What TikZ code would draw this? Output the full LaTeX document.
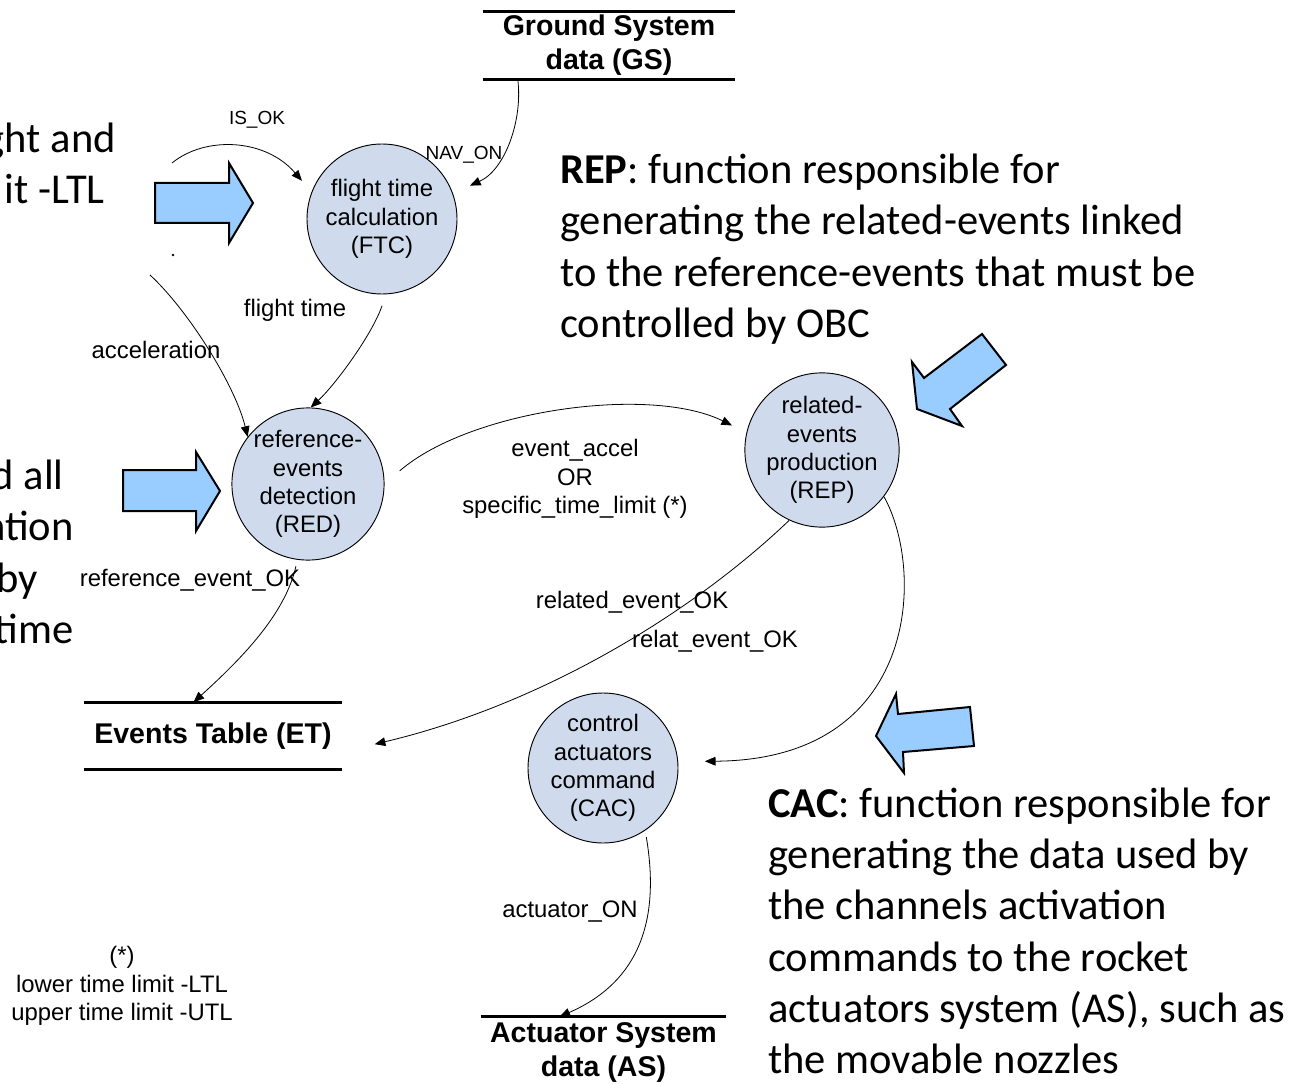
\documentclass[tikz,border=0pt]{standalone}
\usepackage{fontspec}
\setmainfont{Liberation Sans}
\newfontfamily\carlito{Carlito}
\usetikzlibrary{arrows.meta,calc}
\definecolor{procfill}{RGB}{207,219,237}
\definecolor{arrowfill}{RGB}{153,204,255}

\begin{document}
\begin{tikzpicture}[x=0.75pt,y=-0.75pt,
  proc/.style={circle,draw=black,line width=0.7pt,fill=procfill,minimum size=112.5pt,
    inner sep=0pt,align=center,font=\fontsize{17.9}{21.2}\selectfont},
  store/.style={inner sep=0pt,align=center,font=\bfseries\fontsize{21.4}{25.5}\selectfont},
  storeline/.style={line width=2.2pt},
  flow/.style={line width=0.6pt,-{Triangle[length=8pt,width=6.5pt]}},
  bigarrow/.style={draw=black,line width=1.5pt,fill=arrowfill,line join=miter},
  lbl/.style={inner sep=0pt,font=\fontsize{17.9}{21.2}\selectfont},
  small/.style={inner sep=0pt,font=\fontsize{14.25}{17}\selectfont},
  note/.style={inner sep=0pt,align=left,font=\carlito\fontsize{31.9}{38.5}\selectfont},
]
\useasboundingbox (0,0) rectangle (1307,1084);
\clip (0,0) rectangle (1307,1084);

% processes
\node[proc] (ftc) at (382,219) {flight time\\calculation\\(FTC)};
\node[proc] (red) at (308,484) {reference-\\events\\detection\\(RED)};
\node[proc] (rep) at (822,450) {related-\\events\\production\\(REP)};
\node[proc] (cac) at (603,768) {control\\actuators\\command\\(CAC)};

% data stores
\node[store,minimum width=189pt,minimum height=50.25pt] (gs) at (609,45.5) {Ground System\\data (GS)};
\draw[storeline] (gs.north west) -- (gs.north east);
\draw[storeline] (gs.south west) -- (gs.south east);
\node[store,minimum width=193.5pt,minimum height=50.25pt] (et) at (213,736) {Events Table (ET)};
\draw[storeline] (et.north west) -- (et.north east);
\draw[storeline] (et.south west) -- (et.south east);
\node[store,minimum width=183.75pt,minimum height=52.5pt] (as) at (603.5,1052) {Actuator System\\data (AS)};
\draw[storeline] (as.north west) -- (as.north east);

% data flows
\coordinate (isin) at (172,163);
\coordinate (accin) at (150,275);
\draw[flow,shorten >=11pt] (isin) .. controls (205,136) and (265,138) .. (ftc.159);
\draw[flow,shorten >=14pt] ($(gs.south west)+(35,0)$) .. controls (523,120) and (505,170) .. (ftc.20);
\draw[flow] (accin) .. controls (188,310) and (235,385) .. (red.142);
\draw[flow,shorten <=9pt] (ftc.-87) .. controls (372,335) and (335,385) .. (red.88);
\draw[flow,shorten <=15pt,shorten >=12pt] (red.0) .. controls (470,410) and (650,385) .. (rep.167);
\draw[flow,shorten <=5pt] (red.262) .. controls (285,615) and (240,660) .. (et.120);
\draw[flow,shorten >=25pt] (rep.245) .. controls (690,615) and (540,705) .. (et.-7);
\draw[flow,shorten >=20pt] (rep.-37) .. controls (925,570) and (920,760) .. (cac.5);
\draw[flow,shorten <=5pt] (cac.-56) .. controls (662,930) and (632,985) .. ($(as.north)+(-44,0)$);

% flow labels
\node[small] (lisok) at (257,120) {IS\_OK};
\node[small] (lnav) at (464,155) {NAV\_ON};
\node[lbl] (lacc) at (156,350) {acceleration};
\node[lbl] (lft) at (295,310) {flight time};
\node[lbl,align=center] (lev) at (575,479) {event\_accel\\OR\\specific\_time\_limit (*)};
\node[lbl] (lref) at (190,580) {reference\_event\_OK};
\node[lbl] (lrel) at (632,602) {related\_event\_OK};
\node[lbl] (lrelat) at (715,641) {relat\_event\_OK};
\node[lbl] (lact) at (570,912) {actuator\_ON};
\node[lbl,align=center] (lfoot) at (122,986) {(*)\\lower time limit -LTL\\upper time limit -UTL};
\fill (173,255) circle (1.3);

% pointer arrows
\draw[bigarrow] (155,183) -- (229,183) -- (229,163) -- (253,203) -- (229,243) -- (229,223) -- (155,223) -- cycle;
\draw[bigarrow] (123,470) -- (196,470) -- (196,452) -- (220,491) -- (196,531) -- (196,511) -- (123,511) -- cycle;
\draw[bigarrow] (982,334) -- (1006,365) -- (950,409) -- (962,426) -- (917,409) -- (912,362) -- (924,378) -- cycle;
\draw[bigarrow] (970,707) -- (974,746) -- (903,752) -- (904,773) -- (876,736) -- (896,694) -- (898,714) -- cycle;

% explanatory text, running past the left edge
\node[note,anchor=mid east] (t1) at (116,149) {ght and};
\node[note,anchor=mid east] (t2) at (105,200) {it -LTL};
\node[note,anchor=mid east] (t3) at (64,486) {d all};
\node[note,anchor=mid east] (t4) at (74,537) {ation};
\node[note,anchor=mid east] (t5) at (38,589) {by};
\node[note,anchor=mid east] (t6) at (74,640) {time};
\node[note,anchor=west] (trep) at (560,249) {\textbf{REP}: function responsible for\\generating the related-events linked\\to the reference-events that must be\\controlled by OBC};
\node[note,anchor=west] (tcac) at (768,931) {\textbf{CAC}: function responsible for\\generating the data used by\\the channels activation\\commands to the rocket\\actuators system (AS), such as\\the movable nozzles};
\end{tikzpicture}
\end{document}
